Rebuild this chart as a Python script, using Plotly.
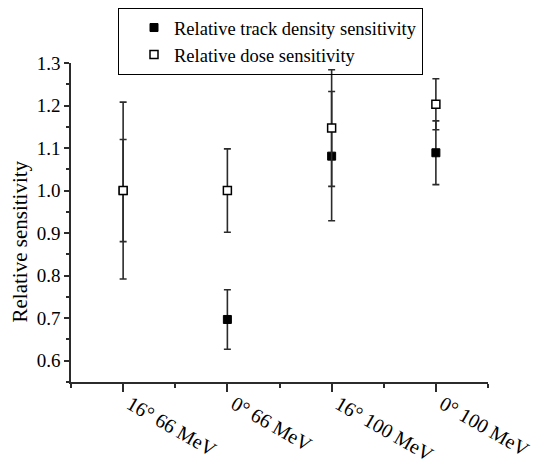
import plotly.graph_objects as go

categories = ["16° 66 MeV", "0° 66 MeV", "16° 100 MeV", "0° 100 MeV"]
positions = [1, 2, 3, 4]

track_density = [1.00, 0.697, 1.081, 1.089]
track_density_err = [0.12, 0.07, 0.152, 0.075]

dose = [1.00, 1.00, 1.147, 1.203]
dose_err = [0.208, 0.098, 0.137, 0.060]

y_ticks = [0.6, 0.7, 0.8, 0.9, 1.0, 1.1, 1.2, 1.3]
x_minor = [0.5, 1.5, 2.5, 3.5, 4.5]

FONT = "Liberation Serif, Times New Roman, serif"
INK = "#2b2b2b"

# page body has an 8px default margin, so the figure is 8px smaller than the window
fig = go.Figure()
fig.add_trace(go.Scatter(
    x=positions, y=track_density, mode="markers",
    name="Relative track density sensitivity",
    marker=dict(symbol="square", size=8, color="black", line=dict(color="black", width=1)),
    error_y=dict(type="data", array=track_density_err, visible=True,
                 color=INK, thickness=1.6, width=3.5),
))
fig.add_trace(go.Scatter(
    x=positions, y=dose, mode="markers",
    name="Relative dose sensitivity",
    marker=dict(symbol="square", size=8, color="white", line=dict(color="black", width=1.5)),
    error_y=dict(type="data", array=dose_err, visible=True,
                 color=INK, thickness=1.6, width=3.5),
))

fig.update_layout(
    width=533, height=452,
    margin=dict(l=63, r=53, t=55, b=78, autoexpand=False),
    paper_bgcolor="white", plot_bgcolor="white",
    font=dict(family=FONT, color="black", size=19),
    showlegend=True,
    legend=dict(
        x=(110 - 63) / 417, y=1 + (55 - 0) / 319, xanchor="left", yanchor="top",
        bordercolor="black", borderwidth=1, bgcolor="rgba(255,255,255,0)",
        font=dict(family=FONT, size=18.5, color="black"),
        tracegroupgap=0, itemsizing="trace", indentation=15,
    ),
    xaxis=dict(
        range=[0.5, 4.5], tickmode="array", tickvals=positions, ticktext=categories,
        tickangle=30, ticks="outside", ticklen=8, tickwidth=1.5, tickcolor=INK,
        showline=True, linecolor=INK, linewidth=1.5, showgrid=False, zeroline=False,
        tickfont=dict(family=FONT, size=20), automargin=False,
        ticklabelshift=7, ticklabelstandoff=-7,
        minor=dict(tickmode="array", tickvals=x_minor, ticks="outside", ticklen=4,
                   tickwidth=1.5, tickcolor=INK, showgrid=False),
    ),
    yaxis=dict(
        range=[0.55, 1.3], tickmode="array", tickvals=y_ticks, tickformat=".1f",
        ticks="outside", ticklen=5, tickwidth=1.5, tickcolor=INK,
        showline=True, linecolor=INK, linewidth=1.5, showgrid=False, zeroline=False,
        tickfont=dict(family=FONT, size=19), automargin=False,
        minor=dict(dtick=0.05, ticks="outside", ticklen=3, tickwidth=1.5, tickcolor=INK,
                   showgrid=False),
    ),
    annotations=[dict(
        text="Relative sensitivity", textangle=-90, showarrow=False,
        xref="paper", yref="paper", x=(11 - 63) / 417, y=(374 - 233.5) / 319,
        xanchor="center", yanchor="middle",
        font=dict(family=FONT, size=21, color="black"),
    )],
)

fig.write_html("out.html")
